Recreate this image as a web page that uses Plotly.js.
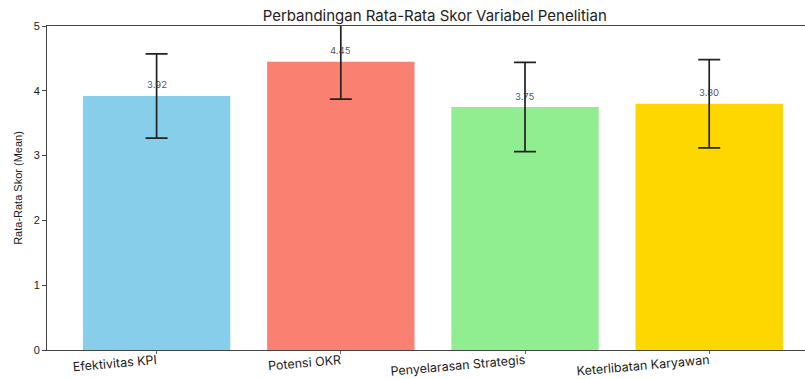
<!DOCTYPE html>
<html>
<head>
<meta charset="utf-8">
<script src="https://cdn.plot.ly/plotly-3.0.1.min.js"></script>
<style>html,body{margin:0;padding:0;background:#fff;}#chart{width:805px;height:379px;}</style>
</head>
<body>
<div id="chart"></div>
<script>
const categories = ["Efektivitas KPI", "Potensi OKR", "Penyelarasan Strategis", "Keterlibatan Karyawan"];
const means = [3.92, 4.45, 3.75, 3.80];
const stdDevs = [0.65, 0.58, 0.69, 0.68];
const barColors = ["#87CEEB", "#FA8072", "#90EE90", "#FFD700"];
const yTicks = [0, 1, 2, 3, 4, 5];

const trace = {
  type: "bar",
  x: categories,
  y: means,
  width: 0.8,
  marker: {color: barColors, line: {width: 0}},
  error_y: {type: "data", array: stdDevs, visible: true, color: "#222", thickness: 1.7, width: 11},
  hoverinfo: "skip"
};

const annotations = categories.map((c, i) => ({
  x: c, y: means[i], xref: "x", yref: "y",
  text: means[i].toFixed(2), showarrow: false,
  yanchor: "middle", yshift: 11,
  font: {family: "Inter, 'Open Sans', sans-serif", size: 9.5, color: "rgba(50,50,50,0.85)"}
}));

const layout = {
  width: 805, height: 379,
  margin: {l: 47, r: 0, t: 26, b: 29},
  paper_bgcolor: "#fff", plot_bgcolor: "#fff",
  showlegend: false,
  title: {
    text: "Perbandingan Rata-Rata Skor Variabel Penelitian",
    font: {family: "Inter, 'Open Sans', sans-serif", size: 15, color: "#222"},
    x: 0.540, xanchor: "center", y: 1 - 16/379, yanchor: "middle", yref: "container"
  },
  xaxis: {
    type: "category",
    range: [-0.595, 3.52],
    tickangle: -5,
    ticks: "outside", ticklen: 3, tickcolor: "#666",
    ticklabelstandoff: -5,
    showline: true, linecolor: "#444", linewidth: 1, mirror: true,
    showgrid: false, zeroline: false,
    tickfont: {family: "Inter, 'Open Sans', sans-serif", size: 12.5, color: "#222"}
  },
  yaxis: {
    range: [0, 5],
    tickvals: yTicks,
    ticktext: yTicks.map(String),
    ticks: "outside", ticklen: 4, tickcolor: "#444",
    showline: true, linecolor: "#444", linewidth: 1,
    showgrid: false, zeroline: false,
    tickfont: {family: "'Liberation Sans', Arial, sans-serif", size: 11, color: "#222"},
    title: {text: "Rata-Rata Skor (Mean)", standoff: 8,
      font: {family: "'Liberation Sans Narrow', 'Liberation Sans', Arial, sans-serif", size: 11, color: "#222"}}
  },
  annotations: annotations
};

Plotly.newPlot("chart", [trace], layout, {displayModeBar: false, staticPlot: true});
</script>
</body>
</html>
